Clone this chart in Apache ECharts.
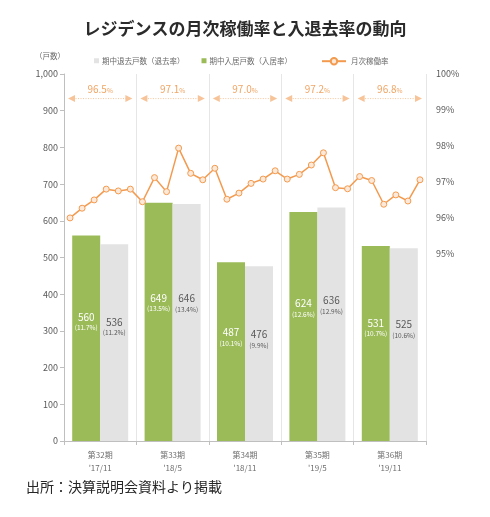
<!DOCTYPE html>
<html>
<head>
<meta charset="utf-8">
<script src="https://cdn.jsdelivr.net/npm/echarts@6/dist/echarts.min.js"></script>
<style>
  html, body { margin: 0; padding: 0; background: #fff; }
  #main { width: 490px; height: 517px; }
</style>
</head>
<body>
<div id="main"></div>
<script>
// 期ごとのカテゴリ
const periods = ["第32期\n'17/11", "第33期\n'18/5", "第34期\n'18/11", "第35期\n'19/5", "第36期\n'19/11"];
// 期中入居戸数と入居率
const moveIn = [560, 649, 487, 624, 531];
const moveInRate = [11.7, 13.5, 10.1, 12.6, 10.7];
// 期中退去戸数と退去率
const moveOut = [536, 646, 476, 636, 525];
const moveOutRate = [11.2, 13.4, 9.9, 12.9, 10.6];
// 期中平均稼働率
const periodAvg = [96.5, 97.1, 97.0, 97.2, 96.8];
// 月次稼働率
const months = [
  "17/6", "17/7", "17/8", "17/9", "17/10", "17/11",
  "17/12", "18/1", "18/2", "18/3", "18/4", "18/5",
  "18/6", "18/7", "18/8", "18/9", "18/10", "18/11",
  "18/12", "19/1", "19/2", "19/3", "19/4", "19/5",
  "19/6", "19/7", "19/8", "19/9", "19/10", "19/11"
];
const occupancy = [
  96.0, 96.27, 96.5, 96.8, 96.75, 96.8,
  96.45, 97.12, 96.73, 97.94, 97.24, 97.06,
  97.38, 96.52, 96.69, 96.96, 97.08, 97.31,
  97.08, 97.21, 97.47, 97.81, 96.84, 96.81,
  97.15, 97.04, 96.38, 96.64, 96.47, 97.06
];

const FONT = "Noto Sans CJK JP";
const chart = echarts.init(document.getElementById("main"));

function barLabel(rates, numColor) {
  return {
    show: true,
    position: ["50%", "42%"],
    align: "center",
    verticalAlign: "middle",
    formatter: (p) => "{n|" + p.value + "}\n{r|(" + rates[p.dataIndex].toFixed(1) + "%)}",
    rich: {
      n: { fontSize: 10, color: numColor, fontFamily: FONT, lineHeight: 12 },
      r: { fontSize: 6.5, color: numColor, fontFamily: FONT, lineHeight: 10 }
    }
  };
}

const option = {
  animation: false,
  textStyle: { fontFamily: FONT },
  title: {
    text: "レジデンスの月次稼働率と入退去率の動向",
    left: "center",
    top: 15,
    textStyle: { fontSize: 17, fontWeight: "bold", color: "#2b2b2b", fontFamily: FONT }
  },
  legend: [
    {
      data: ["期中退去戸数（退去率）", "期中入居戸数（入居率）"],
      left: 89,
      top: 52,
      icon: "rect",
      itemWidth: 5,
      itemHeight: 5,
      itemGap: 17,
      textStyle: { fontSize: 7.5, color: "#6a6a6a", fontFamily: FONT, padding: [0, 0, 0, -2] }
    },
    {
      data: ["月次稼働率"],
      left: 316,
      top: 52,
      itemWidth: 24,
      itemHeight: 8,
      textStyle: { fontSize: 7.5, color: "#6a6a6a", fontFamily: FONT }
    }
  ],
  graphic: [
    {
      type: "text",
      left: 35,
      top: 52,
      style: { text: "（戸数）", fontSize: 7.5, fill: "#6a6a6a", fontFamily: FONT }
    },
    {
      type: "text",
      left: 26,
      top: 480,
      style: { text: "出所：決算説明会資料より掲載", fontSize: 14, fill: "#262626", fontFamily: FONT }
    }
  ],
  grid: { left: 64, right: 64, top: 74, bottom: 76 },
  xAxis: [
    {
      type: "category",
      data: periods,
      axisLine: { lineStyle: { color: "#bfbfbf" } },
      axisTick: { show: true, length: 4, lineStyle: { color: "#bfbfbf" } },
      splitLine: { show: true, lineStyle: { color: "#e6e6e6" } },
      axisLabel: { fontSize: 8, color: "#6e6e6e", lineHeight: 13, margin: 7, fontFamily: FONT }
    },
    {
      type: "category",
      data: months,
      show: false,
      boundaryGap: true
    }
  ],
  yAxis: [
    {
      type: "value",
      min: 0,
      max: 1000,
      interval: 100,
      axisLine: { show: true, lineStyle: { color: "#bfbfbf" } },
      axisTick: { show: true, length: 4, lineStyle: { color: "#bfbfbf" } },
      splitLine: { show: false },
      axisLabel: {
        fontSize: 9,
        color: "#595959",
        margin: 6,
        fontFamily: FONT,
        formatter: (v) => v.toLocaleString("en-US")
      }
    },
    {
      type: "value",
      min: 89.8,
      max: 100,
      interval: 0.2,
      axisLine: { show: false },
      axisTick: { show: false },
      splitLine: { show: false },
      axisLabel: {
        fontSize: 9,
        color: "#595959",
        margin: 10,
        fontFamily: FONT,
        formatter: (v) => {
          const r = Math.round(v);
          return Math.abs(v - r) < 1e-6 && r >= 95 ? r + "%" : "";
        }
      }
    }
  ],
  series: [
    {
      name: "期中入居戸数（入居率）",
      type: "bar",
      data: moveIn,
      barWidth: 28,
      barGap: "0%",
      itemStyle: { color: "#9bbb59" },
      label: barLabel(moveInRate, "#ffffff")
    },
    {
      name: "期中退去戸数（退去率）",
      type: "bar",
      data: moveOut,
      barWidth: 28,
      itemStyle: { color: "#e3e3e3" },
      label: barLabel(moveOutRate, "#595959")
    },
    {
      name: "月次稼働率",
      type: "line",
      xAxisIndex: 1,
      yAxisIndex: 1,
      data: occupancy,
      symbol: "circle",
      symbolSize: 6,
      z: 5,
      lineStyle: { color: "#f39a4e", width: 1.5 },
      itemStyle: { color: "#fde9d9", borderColor: "#f39a4e", borderWidth: 1 }
    },
    {
      // 期中平均稼働率の注記（矢印）
      type: "custom",
      xAxisIndex: 0,
      yAxisIndex: 0,
      data: periodAvg.map((v, i) => [i, 933, v]),
      z: 6,
      clip: false,
      silent: true,
      renderItem: (params, api) => {
        const c = api.coord([api.value(0), api.value(1)]);
        const w = api.size([1, 0])[0];
        const x0 = c[0] - w / 2 + 4;
        const x1 = c[0] + w / 2 - 4;
        const y = c[1];
        const col = "#f7c49a";
        return {
          type: "group",
          children: [
            {
              type: "line",
              shape: { x1: x0 + 5, y1: y, x2: x1 - 5, y2: y },
              style: { stroke: col, lineWidth: 1, lineDash: [1, 1.5] }
            },
            {
              type: "polygon",
              shape: { points: [[x0, y], [x0 + 7, y - 3.5], [x0 + 7, y + 3.5]] },
              style: { fill: col }
            },
            {
              type: "polygon",
              shape: { points: [[x1, y], [x1 - 7, y - 3.5], [x1 - 7, y + 3.5]] },
              style: { fill: col }
            },
            {
              type: "text",
              x: c[0],
              y: y - 9,
              style: {
                text: "{a|" + api.value(2).toFixed(1) + "}{b|%}",
                align: "center",
                verticalAlign: "middle",
                rich: {
                  a: { fontSize: 10, fill: "#f0a565", fontFamily: FONT },
                  b: { fontSize: 6.5, fill: "#f0a565", fontFamily: FONT, padding: [2, 0, 0, 0] }
                }
              }
            }
          ]
        };
      }
    }
  ]
};

chart.setOption(option);
</script>
</body>
</html>
